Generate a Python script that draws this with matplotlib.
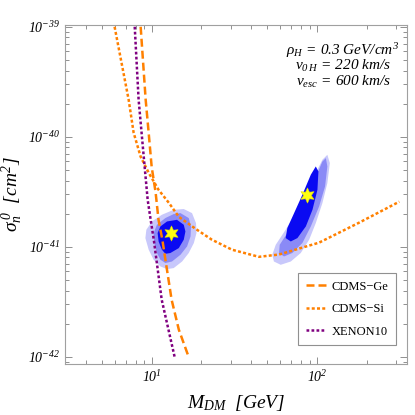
import numpy as np
import matplotlib
matplotlib.use('Agg')
import matplotlib.pyplot as plt
from matplotlib.ticker import FixedLocator, FuncFormatter, NullFormatter

plt.rcParams['font.family'] = ['Liberation Serif', 'DejaVu Serif']
plt.rcParams['mathtext.fontset'] = 'custom'
plt.rcParams['mathtext.rm'] = 'Liberation Serif:italic'
plt.rcParams['mathtext.it'] = 'Liberation Serif:italic'
plt.rcParams['mathtext.bf'] = 'Liberation Serif:bold'

# exclusion limits (mass in GeV, cross section in cm^2)
ge_mass = [8.58, 9.2, 9.59, 10.0, 10.57, 11.0, 11.6, 13.2, 14.6, 16.8]
ge_sigma = [1e-39, 2.17e-40, 1.09e-40, 5.33e-41, 3.1e-41, 1.76e-41, 1.16e-41,
            3.3e-42, 1.76e-42, 9.8e-43]

si_mass = [5.97, 7.26, 7.78, 8.58, 9.59, 11.0, 12.7, 14.6, 18.5, 23.1, 30.6,
           44.5, 58.9, 102.8, 180, 314]
si_sigma = [1e-39, 2.17e-40, 1.09e-40, 6.58e-41, 4.71e-41, 3.3e-41, 2.51e-41,
            1.87e-41, 1.45e-41, 1.16e-41, 9.4e-42, 8.1e-42, 8.5e-42, 1.09e-41,
            1.66e-41, 2.57e-41]

xe_mass = [7.9, 8.34, 8.69, 9.07, 9.46, 9.86, 10.3, 11.5, 13.8]
xe_sigma = [1e-39, 2.17e-40, 1.09e-40, 5.33e-41, 2.67e-41, 1.76e-41, 1.16e-41,
            3.3e-42, 9.8e-43]

# best-fit points
best_mass = [13.0, 86.9]
best_sigma = [1.34e-41, 2.97e-41]

# allowed regions, outlines as (log10 M, log10 sigma)
low_outer = [(1.194, -40.657), (1.244, -40.694), (1.268, -40.785), (1.271, -40.875),
             (1.255, -40.966), (1.224, -41.057), (1.184, -41.134), (1.133, -41.194),
             (1.093, -41.203), (1.053, -41.179), (1.012, -41.118), (0.982, -41.027),
             (0.962, -40.921), (0.968, -40.845), (1.002, -40.770), (1.062, -40.709),
             (1.133, -40.664)]
low_mid = [(1.174, -40.694), (1.224, -40.739), (1.238, -40.815), (1.235, -40.906),
           (1.214, -40.997), (1.174, -41.073), (1.123, -41.134), (1.083, -41.148),
           (1.053, -41.118), (1.032, -41.057), (1.016, -40.966), (1.012, -40.875),
           (1.032, -40.800), (1.083, -40.739), (1.133, -40.703)]
low_inner = [(1.153, -40.755), (1.194, -40.800), (1.204, -40.861), (1.194, -40.936),
             (1.164, -41.012), (1.113, -41.057), (1.083, -41.064), (1.062, -41.027),
             (1.042, -40.952), (1.036, -40.875), (1.053, -40.815), (1.093, -40.770)]

high_outer = [(2.062, -40.164), (2.077, -40.239), (2.062, -40.421), (2.032, -40.603),
              (1.992, -40.785), (1.952, -40.936), (1.901, -41.057), (1.841, -41.134),
              (1.780, -41.164), (1.739, -41.134), (1.729, -41.073), (1.750, -40.982),
              (1.810, -40.845), (1.871, -40.694), (1.932, -40.512), (1.992, -40.330),
              (2.032, -40.209)]
high_mid = [(2.053, -40.194), (2.062, -40.270), (2.048, -40.452), (2.012, -40.634),
            (1.962, -40.815), (1.911, -40.966), (1.850, -41.057), (1.800, -41.088),
            (1.770, -41.057), (1.774, -40.982), (1.820, -40.875), (1.881, -40.709),
            (1.941, -40.527), (2.002, -40.330), (2.032, -40.225)]
high_inner = [(1.992, -40.270), (2.008, -40.315), (2.002, -40.482), (1.972, -40.664),
              (1.932, -40.815), (1.881, -40.921), (1.841, -40.952), (1.810, -40.921),
              (1.820, -40.830), (1.861, -40.694), (1.911, -40.527), (1.962, -40.345)]

region_colors = ['#c8c8fb', '#8a8af6', '#0a0af2']

x_ticks = [10, 100]
y_ticks = [1e-42, 1e-41, 1e-40, 1e-39]

fig = plt.figure(figsize=(4.15, 4.15), dpi=100)
ax = fig.add_axes([0.157, 0.123, 0.824, 0.817])

for shapes in [(low_outer, low_mid, low_inner), (high_outer, high_mid, high_inner)]:
    for pts, col in zip(shapes, region_colors):
        arr = 10.0 ** np.array(pts)
        ax.fill(arr[:, 0], arr[:, 1], color=col, lw=0, zorder=1)

orange = '#ff8000'
purple = '#800080'
ax.plot(ge_mass, ge_sigma, color=orange, lw=1.8, ls=(0, (3.2, 1.6)), label='CDMS\u2212Ge', zorder=3)
ax.plot(si_mass, si_sigma, color=orange, lw=1.8, ls=(0, (1.2, 0.9)), label='CDMS\u2212Si', zorder=3)
ax.plot(xe_mass, xe_sigma, color=purple, lw=1.8, ls=(0, (1.1, 0.9)), label='XENON10', zorder=3)

ax.plot(best_mass, best_sigma, ls='none', marker=(6, 1, 0), ms=11, color='#ffff10',
        mec='#e0e000', mew=0.4, zorder=4)

ax.set_xscale('log')
ax.set_yscale('log')
ax.set_xlim(3, 350)
ax.set_ylim(8.6e-43, 1.04e-39)

# minor ticks at 2..9 of every decade in view
x_minor = [m * 10.0 ** e for e in range(0, 3) for m in range(2, 10) if 3 <= m * 10.0 ** e <= 350]
y_minor = [m * 10.0 ** e for e in range(-43, -39) for m in range(2, 10)]
ax.xaxis.set_major_locator(FixedLocator(x_ticks))
ax.yaxis.set_major_locator(FixedLocator(y_ticks))
ax.xaxis.set_minor_locator(FixedLocator(x_minor))
ax.yaxis.set_minor_locator(FixedLocator(y_minor))
fmt = FuncFormatter(lambda v, p: r'$10^{%d}$' % int(round(np.log10(v))))
ax.xaxis.set_major_formatter(fmt)
ax.yaxis.set_major_formatter(fmt)
ax.xaxis.set_minor_formatter(NullFormatter())
ax.yaxis.set_minor_formatter(NullFormatter())

ax.tick_params(which='both', direction='in', top=True, right=True, color='#909090',
               labelsize=10, width=0.7)
ax.tick_params(which='major', length=5)
ax.tick_params(which='minor', length=3)
for s in ax.spines.values():
    s.set_color('#a0a0a0')
    s.set_linewidth(0.8)

ax.set_xlabel(r'$M_{DM}\ \ [GeV]$', fontsize=14, labelpad=6)
ax.set_ylabel(r'$\sigma_n^{\,0}\ \ [cm^2]$', fontsize=14, labelpad=2)

ax.text(0.813, 0.925, r'$\rho_H\, =\, 0.3\ GeV/cm^3$', transform=ax.transAxes,
        ha='center', va='center', fontsize=11)
ax.text(0.813, 0.878, r'$v_{0\,H}\, =\, 220\ km/s$', transform=ax.transAxes,
        ha='center', va='center', fontsize=11)
ax.text(0.813, 0.831, r'$v_{esc}\, =\, 600\ km/s$', transform=ax.transAxes,
        ha='center', va='center', fontsize=11)

leg = ax.legend(loc='lower right', bbox_to_anchor=(0.968, 0.055), fontsize=9,
                fancybox=False, framealpha=1, edgecolor='#909090', handlelength=1.6,
                handletextpad=0.5, borderpad=0.6, borderaxespad=0, labelspacing=0.85)
leg.get_frame().set_linewidth(0.8)

fig.savefig('out.png', dpi=100)
